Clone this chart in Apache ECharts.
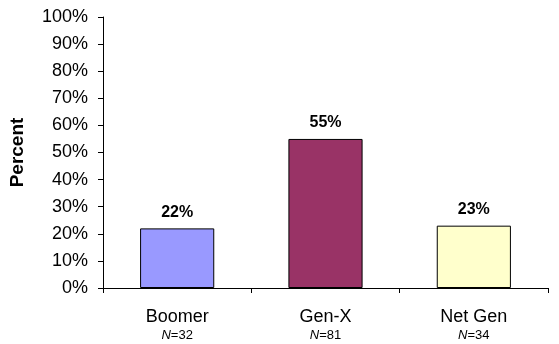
<!DOCTYPE html>
<html><head><meta charset="utf-8">
<script src="https://cdn.jsdelivr.net/npm/echarts@6/dist/echarts.min.js"></script>
<style>html,body{margin:0;padding:0;background:#fff}#c{width:559px;height:344px}</style>
</head><body><div id="c"></div>
<script>
const categories = ['Boomer', 'Gen-X', 'Net Gen'];
const sampleSizes = ['32', '81', '34'];
const values = [22, 55, 23];
const barColors = ['#9999FF', '#993366', '#FFFFCC'];
const yTicks = [0, 10, 20, 30, 40, 50, 60, 70, 80, 90, 100];

const chart = echarts.init(document.getElementById('c'));
chart.setOption({
  animation: false,
  backgroundColor: '#fff',
  grid: { left: 101, right: 11, top: 17, bottom: 56 },
  xAxis: {
    type: 'category',
    data: categories,
    axisLine: { lineStyle: { color: '#000', width: 1 } },
    axisTick: { show: true, alignWithLabel: false, length: 5, lineStyle: { color: '#000' } },
    axisLabel: {
      margin: 19,
      formatter: (v, i) => '{a|' + v + '}\n{n|N}{v|=' + sampleSizes[i] + '}',
      rich: {
        a: { fontFamily: 'Liberation Sans, Arial', fontSize: 18, color: '#000', lineHeight: 20 },
        n: { fontFamily: 'Liberation Sans, Arial', fontSize: 13, fontStyle: 'italic', color: '#000', lineHeight: 16 },
        v: { fontFamily: 'Liberation Sans, Arial', fontSize: 13, color: '#000', lineHeight: 16 }
      }
    },
    splitLine: { show: false }
  },
  yAxis: {
    type: 'value',
    min: yTicks[0], max: yTicks[yTicks.length - 1], interval: 10,
    name: 'Percent',
    nameLocation: 'middle',
    nameGap: 76,
    nameRotate: 90,
    nameTextStyle: { fontFamily: 'Liberation Sans, Arial', fontSize: 19, fontWeight: 'bold', color: '#000' },
    axisLine: { show: true, lineStyle: { color: '#000', width: 1 } },
    axisTick: { show: true, length: 5, lineStyle: { color: '#000' } },
    axisLabel: {
      margin: 15,
      formatter: v => v + '%',
      fontFamily: 'Liberation Sans, Arial', fontSize: 18, color: '#000'
    },
    splitLine: { show: false }
  },
  series: [{
    type: 'bar',
    data: values.map((v, i) => ({ value: v, itemStyle: { color: barColors[i] } })),
    barWidth: '50%',
    itemStyle: { borderColor: '#000', borderWidth: 1 },
    label: {
      show: true, position: 'top', distance: 8,
      formatter: p => p.value + '%',
      fontFamily: 'Liberation Sans, Arial', fontSize: 16, fontWeight: 'bold', color: '#000'
    }
  }]
});
</script></body></html>
